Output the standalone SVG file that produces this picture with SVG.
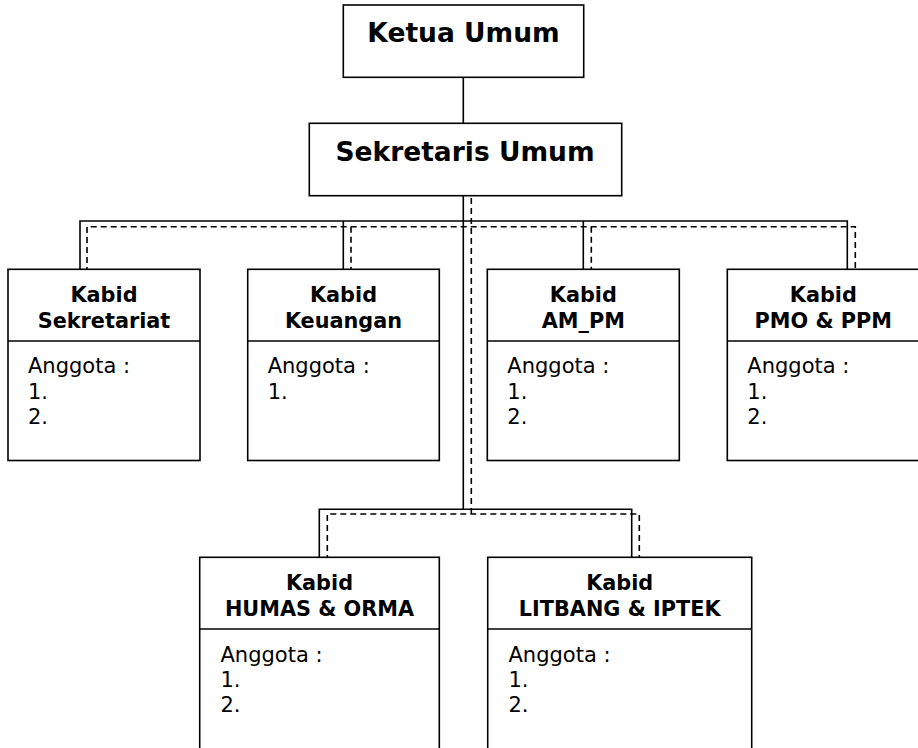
<svg xmlns="http://www.w3.org/2000/svg" width="918" height="748" viewBox="0 0 918 748">
<style>
.box{fill:#fff;stroke:#000;stroke-width:1.6}
.ln{fill:none;stroke:#000;stroke-width:1.6}
.ds{fill:none;stroke:#000;stroke-width:1.6;stroke-dasharray:6 4}
.t1{font-family:"DejaVu Sans",Verdana,sans-serif;font-weight:bold;font-size:26.5px;text-anchor:middle;fill:#000}
.th{font-family:"DejaVu Sans",Verdana,sans-serif;font-weight:bold;font-size:20.8px;text-anchor:middle;fill:#000}
.tb{font-family:"DejaVu Sans",Verdana,sans-serif;font-size:21px;fill:#000}
</style>
<rect width="918" height="748" fill="#fff"/>
<g id="connectors">
<path class="ln" d="M463.3 77.3V123.3M463.3 195.7V509.3M80 269.3V221H847.3V269.3M343.3 221V269.3M583.3 221V269.3M319.3 557.3V509.3H631.7V557.3"/>
<path class="ds" d="M471.3 198V514M87 273V226.7H855.3V273M351 226.7V273M591.3 226.7V273M327.3 561V514H639.3V561"/>
</g>
<g id="ketua">
<rect class="box" x="343.3" y="5" width="240.4" height="72.3"/>
<text class="t1" x="463.5" y="42">Ketua Umum</text>
</g>
<g id="sekretaris">
<rect class="box" x="309.3" y="123.3" width="312.4" height="72.4"/>
<text class="t1" x="465" y="160.7">Sekretaris Umum</text>
</g>
<g id="kabid-sekretariat">
<rect class="box" x="8" y="269.3" width="192" height="191.2"/>
<line class="ln" x1="8" y1="341" x2="200" y2="341"/>
<text class="th" x="104" y="301.7">Kabid</text>
<text class="th" x="104" y="328.3">Sekretariat</text>
<text class="tb" x="28" y="373.3">Anggota :</text>
<text class="tb" x="28" y="399.3">1.</text>
<text class="tb" x="28" y="424">2.</text>
</g>
<g id="kabid-keuangan">
<rect class="box" x="247.7" y="269.3" width="191.6" height="191.2"/>
<line class="ln" x1="247.7" y1="341" x2="439.3" y2="341"/>
<text class="th" x="343.5" y="301.7">Kabid</text>
<text class="th" x="343.5" y="328.3">Keuangan</text>
<text class="tb" x="267.7" y="373.3">Anggota :</text>
<text class="tb" x="267.7" y="399.3">1.</text>
</g>
<g id="kabid-ampm">
<rect class="box" x="487.3" y="269.3" width="192" height="191.2"/>
<line class="ln" x1="487.3" y1="341" x2="679.3" y2="341"/>
<text class="th" x="583.3" y="301.7">Kabid</text>
<text class="th" x="583.3" y="328.3">AM_PM</text>
<text class="tb" x="507.3" y="373.3">Anggota :</text>
<text class="tb" x="507.3" y="399.3">1.</text>
<text class="tb" x="507.3" y="424">2.</text>
</g>
<g id="kabid-pmo">
<rect class="box" x="727.3" y="269.3" width="192" height="191.2"/>
<line class="ln" x1="727.3" y1="341" x2="919.3" y2="341"/>
<text class="th" x="823.3" y="301.7">Kabid</text>
<text class="th" x="823.3" y="328.3">PMO &amp; PPM</text>
<text class="tb" x="747.3" y="373.3">Anggota :</text>
<text class="tb" x="747.3" y="399.3">1.</text>
<text class="tb" x="747.3" y="424">2.</text>
</g>
<g id="kabid-humas">
<rect class="box" x="199.7" y="557.3" width="239.6" height="200"/>
<line class="ln" x1="199.7" y1="629" x2="439.3" y2="629"/>
<text class="th" x="319.5" y="590">Kabid</text>
<text class="th" x="319.5" y="616.3">HUMAS &amp; ORMA</text>
<text class="tb" x="220.5" y="661.7">Anggota :</text>
<text class="tb" x="220.5" y="686.7">1.</text>
<text class="tb" x="220.5" y="711.7">2.</text>
</g>
<g id="kabid-litbang">
<rect class="box" x="487.7" y="557.3" width="264" height="200"/>
<line class="ln" x1="487.7" y1="629" x2="751.7" y2="629"/>
<text class="th" x="619.7" y="590">Kabid</text>
<text class="th" x="619.7" y="616.3">LITBANG &amp; IPTEK</text>
<text class="tb" x="508.5" y="661.7">Anggota :</text>
<text class="tb" x="508.5" y="686.7">1.</text>
<text class="tb" x="508.5" y="711.7">2.</text>
</g>
</svg>
